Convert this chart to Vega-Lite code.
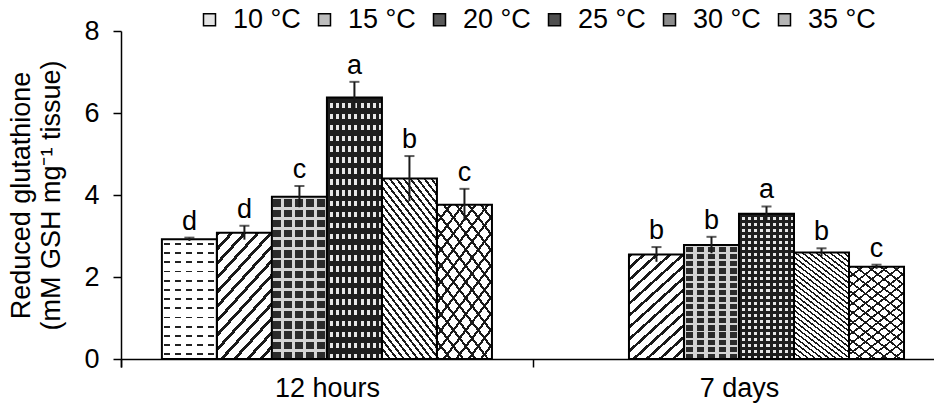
{
  "$schema": "https://vega.github.io/schema/vega-lite/v6.json",
  "width": 813,
  "height": 328,
  "autosize": {"type": "none"},
  "padding": {"left": 121, "top": 31, "right": 0, "bottom": 47},
  "background": "white",
  "config": {
    "font": "Liberation Sans",
    "view": {"stroke": null},
    "axis": {"domainColor": "black", "tickColor": "black", "labelColor": "black", "titleColor": "black", "domainWidth": 1.5, "tickWidth": 1.5, "grid": false}
  },
  "data": {
    "values": [
      {"time": "12 hours", "temp": "10 °C", "mean": 2.92, "lo": 2.88, "hi": 2.96, "letter": "d"},
      {"time": "12 hours", "temp": "15 °C", "mean": 3.08, "lo": 2.91, "hi": 3.25, "letter": "d"},
      {"time": "12 hours", "temp": "20 °C", "mean": 3.96, "lo": 3.70, "hi": 4.22, "letter": "c"},
      {"time": "12 hours", "temp": "25 °C", "mean": 6.38, "lo": 6.00, "hi": 6.76, "letter": "a"},
      {"time": "12 hours", "temp": "30 °C", "mean": 4.40, "lo": 3.85, "hi": 4.95, "letter": "b"},
      {"time": "12 hours", "temp": "35 °C", "mean": 3.76, "lo": 3.37, "hi": 4.15, "letter": "c"},
      {"time": "7 days", "temp": "15 °C", "mean": 2.55, "lo": 2.37, "hi": 2.73, "letter": "b"},
      {"time": "7 days", "temp": "20 °C", "mean": 2.78, "lo": 2.58, "hi": 2.98, "letter": "b"},
      {"time": "7 days", "temp": "25 °C", "mean": 3.54, "lo": 3.36, "hi": 3.72, "letter": "a"},
      {"time": "7 days", "temp": "30 °C", "mean": 2.60, "lo": 2.50, "hi": 2.70, "letter": "b"},
      {"time": "7 days", "temp": "35 °C", "mean": 2.25, "lo": 2.20, "hi": 2.30, "letter": "c"}
    ]
  },
  "encoding": {
    "x": {
      "field": "time", "type": "nominal", "sort": ["12 hours", "7 days"],
      "scale": {"paddingInner": 0.199, "paddingOuter": 0.086, "align": 0.577},
      "axis": {"title": null, "labelAngle": 0, "labelFontSize": 27, "labelPadding": 8, "labelOffset": 41, "tickSize": 8, "bandPosition": 0, "tickOffset": -41, "tickExtra": true}
    },
    "xOffset": {
      "field": "temp", "type": "nominal",
      "scale": {"domain": ["10 °C", "15 °C", "20 °C", "25 °C", "30 °C", "35 °C"], "paddingInner": 0, "paddingOuter": 0}
    }
  },
  "layer": [
    {
      "mark": {"type": "bar"},
      "encoding": {
        "y": {
          "field": "mean", "type": "quantitative",
          "scale": {"domain": [0, 8], "nice": false},
          "axis": {"values": [0, 2, 4, 6, 8], "labelFontSize": 27, "labelPadding": 14, "tickSize": 8,
                   "title": ["Reduced glutathione", "(mM GSH mg⁻¹ tissue)"], "titleFontSize": 27, "titleFontWeight": "normal", "titleLineHeight": 30, "titlePadding": 18}
        },
        "fill": {
          "field": "temp", "type": "nominal",
          "scale": {"domain": ["10 °C", "15 °C", "20 °C", "25 °C", "30 °C", "35 °C"],
                    "range": ["#e4e4e4", "#bdbdbd", "#5a5a5a", "#4f4f4f", "#8c8c8c", "#b5b5b5"]},
          "legend": {"title": null, "orient": "none", "legendX": 75, "legendY": -25, "direction": "horizontal", "columns": 6, "padding": 0,
                     "symbolType": "square", "symbolSize": 144, "symbolStrokeColor": "black", "symbolStrokeWidth": 1.5,
                     "labelFontSize": 27, "labelColor": "black", "labelOffset": 10, "columnPadding": 10}
        }
      }
    },
    {
      "mark": {"type": "bar"},
      "encoding": {
        "y": {"field": "mean", "type": "quantitative"},
        "fill": {
          "condition": [
            {"test": "datum.temp === '10 °C'", "value": {"gradient": "linear", "x1": 0, "y1": 0, "x2": 0, "y2": 1, "stops": [
              {"offset": 0, "color": "#fff"},
              {"offset": 0.0308, "color": "#fff"}, {"offset": 0.0308, "color": "#222"}, {"offset": 0.0462, "color": "#222"}, {"offset": 0.0462, "color": "#fff"},
              {"offset": 0.1077, "color": "#fff"}, {"offset": 0.1077, "color": "#222"}, {"offset": 0.1231, "color": "#222"}, {"offset": 0.1231, "color": "#fff"},
              {"offset": 0.1846, "color": "#fff"}, {"offset": 0.1846, "color": "#222"}, {"offset": 0.2000, "color": "#222"}, {"offset": 0.2000, "color": "#fff"},
              {"offset": 0.2615, "color": "#fff"}, {"offset": 0.2615, "color": "#222"}, {"offset": 0.2769, "color": "#222"}, {"offset": 0.2769, "color": "#fff"},
              {"offset": 0.3385, "color": "#fff"}, {"offset": 0.3385, "color": "#222"}, {"offset": 0.3538, "color": "#222"}, {"offset": 0.3538, "color": "#fff"},
              {"offset": 0.4154, "color": "#fff"}, {"offset": 0.4154, "color": "#222"}, {"offset": 0.4308, "color": "#222"}, {"offset": 0.4308, "color": "#fff"},
              {"offset": 0.4923, "color": "#fff"}, {"offset": 0.4923, "color": "#222"}, {"offset": 0.5077, "color": "#222"}, {"offset": 0.5077, "color": "#fff"},
              {"offset": 0.5692, "color": "#fff"}, {"offset": 0.5692, "color": "#222"}, {"offset": 0.5846, "color": "#222"}, {"offset": 0.5846, "color": "#fff"},
              {"offset": 0.6462, "color": "#fff"}, {"offset": 0.6462, "color": "#222"}, {"offset": 0.6615, "color": "#222"}, {"offset": 0.6615, "color": "#fff"},
              {"offset": 0.7231, "color": "#fff"}, {"offset": 0.7231, "color": "#222"}, {"offset": 0.7385, "color": "#222"}, {"offset": 0.7385, "color": "#fff"},
              {"offset": 0.8000, "color": "#fff"}, {"offset": 0.8000, "color": "#222"}, {"offset": 0.8154, "color": "#222"}, {"offset": 0.8154, "color": "#fff"},
              {"offset": 0.8769, "color": "#fff"}, {"offset": 0.8769, "color": "#222"}, {"offset": 0.8923, "color": "#222"}, {"offset": 0.8923, "color": "#fff"},
              {"offset": 0.9538, "color": "#fff"}, {"offset": 0.9538, "color": "#222"}, {"offset": 0.9692, "color": "#222"}, {"offset": 0.9692, "color": "#fff"},
              {"offset": 1, "color": "#fff"}]}},
            {"test": "datum.temp === '15 °C'", "value": {"gradient": "linear", "x1": 0, "y1": 0, "x2": 0.575, "y2": 1.203, "stops": [
              {"offset": 0, "color": "#1a1a1a"}, {"offset": 0.0231, "color": "#1a1a1a"}, {"offset": 0.0231, "color": "#fff"}, {"offset": 0.0769, "color": "#fff"},
              {"offset": 0.0769, "color": "#1a1a1a"}, {"offset": 0.1000, "color": "#1a1a1a"}, {"offset": 0.1000, "color": "#fff"}, {"offset": 0.1538, "color": "#fff"},
              {"offset": 0.1538, "color": "#1a1a1a"}, {"offset": 0.1769, "color": "#1a1a1a"}, {"offset": 0.1769, "color": "#fff"}, {"offset": 0.2308, "color": "#fff"},
              {"offset": 0.2308, "color": "#1a1a1a"}, {"offset": 0.2538, "color": "#1a1a1a"}, {"offset": 0.2538, "color": "#fff"}, {"offset": 0.3077, "color": "#fff"},
              {"offset": 0.3077, "color": "#1a1a1a"}, {"offset": 0.3308, "color": "#1a1a1a"}, {"offset": 0.3308, "color": "#fff"}, {"offset": 0.3846, "color": "#fff"},
              {"offset": 0.3846, "color": "#1a1a1a"}, {"offset": 0.4077, "color": "#1a1a1a"}, {"offset": 0.4077, "color": "#fff"}, {"offset": 0.4615, "color": "#fff"},
              {"offset": 0.4615, "color": "#1a1a1a"}, {"offset": 0.4846, "color": "#1a1a1a"}, {"offset": 0.4846, "color": "#fff"}, {"offset": 0.5385, "color": "#fff"},
              {"offset": 0.5385, "color": "#1a1a1a"}, {"offset": 0.5615, "color": "#1a1a1a"}, {"offset": 0.5615, "color": "#fff"}, {"offset": 0.6154, "color": "#fff"},
              {"offset": 0.6154, "color": "#1a1a1a"}, {"offset": 0.6385, "color": "#1a1a1a"}, {"offset": 0.6385, "color": "#fff"}, {"offset": 0.6923, "color": "#fff"},
              {"offset": 0.6923, "color": "#1a1a1a"}, {"offset": 0.7154, "color": "#1a1a1a"}, {"offset": 0.7154, "color": "#fff"}, {"offset": 0.7692, "color": "#fff"},
              {"offset": 0.7692, "color": "#1a1a1a"}, {"offset": 0.7923, "color": "#1a1a1a"}, {"offset": 0.7923, "color": "#fff"}, {"offset": 0.8462, "color": "#fff"},
              {"offset": 0.8462, "color": "#1a1a1a"}, {"offset": 0.8692, "color": "#1a1a1a"}, {"offset": 0.8692, "color": "#fff"}, {"offset": 0.9231, "color": "#fff"},
              {"offset": 0.9231, "color": "#1a1a1a"}, {"offset": 0.9462, "color": "#1a1a1a"}, {"offset": 0.9462, "color": "#fff"}, {"offset": 1, "color": "#fff"}]}},
            {"test": "datum.temp === '20 °C'", "value": {"gradient": "linear", "x1": 0, "y1": 0, "x2": 0, "y2": 1, "stops": [
              {"offset": 0, "color": "#d4d4d4"}, {"offset": 0.0175, "color": "#d4d4d4"}, {"offset": 0.0175, "color": "#2b2b2b"}, {"offset": 0.0625, "color": "#2b2b2b"},
              {"offset": 0.0625, "color": "#d4d4d4"}, {"offset": 0.08, "color": "#d4d4d4"}, {"offset": 0.08, "color": "#2b2b2b"}, {"offset": 0.125, "color": "#2b2b2b"},
              {"offset": 0.125, "color": "#d4d4d4"}, {"offset": 0.1425, "color": "#d4d4d4"}, {"offset": 0.1425, "color": "#2b2b2b"}, {"offset": 0.1875, "color": "#2b2b2b"},
              {"offset": 0.1875, "color": "#d4d4d4"}, {"offset": 0.205, "color": "#d4d4d4"}, {"offset": 0.205, "color": "#2b2b2b"}, {"offset": 0.25, "color": "#2b2b2b"},
              {"offset": 0.25, "color": "#d4d4d4"}, {"offset": 0.2675, "color": "#d4d4d4"}, {"offset": 0.2675, "color": "#2b2b2b"}, {"offset": 0.3125, "color": "#2b2b2b"},
              {"offset": 0.3125, "color": "#d4d4d4"}, {"offset": 0.33, "color": "#d4d4d4"}, {"offset": 0.33, "color": "#2b2b2b"}, {"offset": 0.375, "color": "#2b2b2b"},
              {"offset": 0.375, "color": "#d4d4d4"}, {"offset": 0.3925, "color": "#d4d4d4"}, {"offset": 0.3925, "color": "#2b2b2b"}, {"offset": 0.4375, "color": "#2b2b2b"},
              {"offset": 0.4375, "color": "#d4d4d4"}, {"offset": 0.455, "color": "#d4d4d4"}, {"offset": 0.455, "color": "#2b2b2b"}, {"offset": 0.5, "color": "#2b2b2b"},
              {"offset": 0.5, "color": "#d4d4d4"}, {"offset": 0.5175, "color": "#d4d4d4"}, {"offset": 0.5175, "color": "#2b2b2b"}, {"offset": 0.5625, "color": "#2b2b2b"},
              {"offset": 0.5625, "color": "#d4d4d4"}, {"offset": 0.58, "color": "#d4d4d4"}, {"offset": 0.58, "color": "#2b2b2b"}, {"offset": 0.625, "color": "#2b2b2b"},
              {"offset": 0.625, "color": "#d4d4d4"}, {"offset": 0.6425, "color": "#d4d4d4"}, {"offset": 0.6425, "color": "#2b2b2b"}, {"offset": 0.6875, "color": "#2b2b2b"},
              {"offset": 0.6875, "color": "#d4d4d4"}, {"offset": 0.705, "color": "#d4d4d4"}, {"offset": 0.705, "color": "#2b2b2b"}, {"offset": 0.75, "color": "#2b2b2b"},
              {"offset": 0.75, "color": "#d4d4d4"}, {"offset": 0.7675, "color": "#d4d4d4"}, {"offset": 0.7675, "color": "#2b2b2b"}, {"offset": 0.8125, "color": "#2b2b2b"},
              {"offset": 0.8125, "color": "#d4d4d4"}, {"offset": 0.83, "color": "#d4d4d4"}, {"offset": 0.83, "color": "#2b2b2b"}, {"offset": 0.875, "color": "#2b2b2b"},
              {"offset": 0.875, "color": "#d4d4d4"}, {"offset": 0.8925, "color": "#d4d4d4"}, {"offset": 0.8925, "color": "#2b2b2b"}, {"offset": 0.9375, "color": "#2b2b2b"},
              {"offset": 0.9375, "color": "#d4d4d4"}, {"offset": 0.955, "color": "#d4d4d4"}, {"offset": 0.955, "color": "#2b2b2b"}, {"offset": 1, "color": "#2b2b2b"}]}},
            {"test": "datum.temp === '25 °C'", "value": {"gradient": "linear", "x1": 0, "y1": 0, "x2": 0, "y2": 1, "stops": [
              {"offset": 0, "color": "#1e1e1e"}, {"offset": 0.02083, "color": "#1e1e1e"}, {"offset": 0.02083, "color": "#e6e6e6"}, {"offset": 0.04167, "color": "#e6e6e6"},
              {"offset": 0.04167, "color": "#1e1e1e"}, {"offset": 0.0625, "color": "#1e1e1e"}, {"offset": 0.0625, "color": "#e6e6e6"}, {"offset": 0.08333, "color": "#e6e6e6"},
              {"offset": 0.08333, "color": "#1e1e1e"}, {"offset": 0.10417, "color": "#1e1e1e"}, {"offset": 0.10417, "color": "#e6e6e6"}, {"offset": 0.125, "color": "#e6e6e6"},
              {"offset": 0.125, "color": "#1e1e1e"}, {"offset": 0.14583, "color": "#1e1e1e"}, {"offset": 0.14583, "color": "#e6e6e6"}, {"offset": 0.16667, "color": "#e6e6e6"},
              {"offset": 0.16667, "color": "#1e1e1e"}, {"offset": 0.1875, "color": "#1e1e1e"}, {"offset": 0.1875, "color": "#e6e6e6"}, {"offset": 0.20833, "color": "#e6e6e6"},
              {"offset": 0.20833, "color": "#1e1e1e"}, {"offset": 0.22917, "color": "#1e1e1e"}, {"offset": 0.22917, "color": "#e6e6e6"}, {"offset": 0.25, "color": "#e6e6e6"},
              {"offset": 0.25, "color": "#1e1e1e"}, {"offset": 0.27083, "color": "#1e1e1e"}, {"offset": 0.27083, "color": "#e6e6e6"}, {"offset": 0.29167, "color": "#e6e6e6"},
              {"offset": 0.29167, "color": "#1e1e1e"}, {"offset": 0.3125, "color": "#1e1e1e"}, {"offset": 0.3125, "color": "#e6e6e6"}, {"offset": 0.33333, "color": "#e6e6e6"},
              {"offset": 0.33333, "color": "#1e1e1e"}, {"offset": 0.35417, "color": "#1e1e1e"}, {"offset": 0.35417, "color": "#e6e6e6"}, {"offset": 0.375, "color": "#e6e6e6"},
              {"offset": 0.375, "color": "#1e1e1e"}, {"offset": 0.39583, "color": "#1e1e1e"}, {"offset": 0.39583, "color": "#e6e6e6"}, {"offset": 0.41667, "color": "#e6e6e6"},
              {"offset": 0.41667, "color": "#1e1e1e"}, {"offset": 0.4375, "color": "#1e1e1e"}, {"offset": 0.4375, "color": "#e6e6e6"}, {"offset": 0.45833, "color": "#e6e6e6"},
              {"offset": 0.45833, "color": "#1e1e1e"}, {"offset": 0.47917, "color": "#1e1e1e"}, {"offset": 0.47917, "color": "#e6e6e6"}, {"offset": 0.5, "color": "#e6e6e6"},
              {"offset": 0.5, "color": "#1e1e1e"}, {"offset": 0.52083, "color": "#1e1e1e"}, {"offset": 0.52083, "color": "#e6e6e6"}, {"offset": 0.54167, "color": "#e6e6e6"},
              {"offset": 0.54167, "color": "#1e1e1e"}, {"offset": 0.5625, "color": "#1e1e1e"}, {"offset": 0.5625, "color": "#e6e6e6"}, {"offset": 0.58333, "color": "#e6e6e6"},
              {"offset": 0.58333, "color": "#1e1e1e"}, {"offset": 0.60417, "color": "#1e1e1e"}, {"offset": 0.60417, "color": "#e6e6e6"}, {"offset": 0.625, "color": "#e6e6e6"},
              {"offset": 0.625, "color": "#1e1e1e"}, {"offset": 0.64583, "color": "#1e1e1e"}, {"offset": 0.64583, "color": "#e6e6e6"}, {"offset": 0.66667, "color": "#e6e6e6"},
              {"offset": 0.66667, "color": "#1e1e1e"}, {"offset": 0.6875, "color": "#1e1e1e"}, {"offset": 0.6875, "color": "#e6e6e6"}, {"offset": 0.70833, "color": "#e6e6e6"},
              {"offset": 0.70833, "color": "#1e1e1e"}, {"offset": 0.72917, "color": "#1e1e1e"}, {"offset": 0.72917, "color": "#e6e6e6"}, {"offset": 0.75, "color": "#e6e6e6"},
              {"offset": 0.75, "color": "#1e1e1e"}, {"offset": 0.77083, "color": "#1e1e1e"}, {"offset": 0.77083, "color": "#e6e6e6"}, {"offset": 0.79167, "color": "#e6e6e6"},
              {"offset": 0.79167, "color": "#1e1e1e"}, {"offset": 0.8125, "color": "#1e1e1e"}, {"offset": 0.8125, "color": "#e6e6e6"}, {"offset": 0.83333, "color": "#e6e6e6"},
              {"offset": 0.83333, "color": "#1e1e1e"}, {"offset": 0.85417, "color": "#1e1e1e"}, {"offset": 0.85417, "color": "#e6e6e6"}, {"offset": 0.875, "color": "#e6e6e6"},
              {"offset": 0.875, "color": "#1e1e1e"}, {"offset": 0.89583, "color": "#1e1e1e"}, {"offset": 0.89583, "color": "#e6e6e6"}, {"offset": 0.91667, "color": "#e6e6e6"},
              {"offset": 0.91667, "color": "#1e1e1e"}, {"offset": 0.9375, "color": "#1e1e1e"}, {"offset": 0.9375, "color": "#e6e6e6"}, {"offset": 0.95833, "color": "#e6e6e6"},
              {"offset": 0.95833, "color": "#1e1e1e"}, {"offset": 0.97917, "color": "#1e1e1e"}, {"offset": 0.97917, "color": "#e6e6e6"}, {"offset": 1, "color": "#e6e6e6"}]}},
            {"test": "datum.temp === '30 °C'", "value": {"gradient": "linear", "x1": 0, "y1": 1, "x2": 0.477, "y2": -0.207, "stops": [
              {"offset": 0, "color": "#1a1a1a"}, {"offset": 0.0125, "color": "#1a1a1a"}, {"offset": 0.0125, "color": "#fff"}, {"offset": 0.0357, "color": "#fff"},
              {"offset": 0.0357, "color": "#1a1a1a"}, {"offset": 0.0482, "color": "#1a1a1a"}, {"offset": 0.0482, "color": "#fff"}, {"offset": 0.0714, "color": "#fff"},
              {"offset": 0.0714, "color": "#1a1a1a"}, {"offset": 0.0839, "color": "#1a1a1a"}, {"offset": 0.0839, "color": "#fff"}, {"offset": 0.1071, "color": "#fff"},
              {"offset": 0.1071, "color": "#1a1a1a"}, {"offset": 0.1196, "color": "#1a1a1a"}, {"offset": 0.1196, "color": "#fff"}, {"offset": 0.1429, "color": "#fff"},
              {"offset": 0.1429, "color": "#1a1a1a"}, {"offset": 0.1554, "color": "#1a1a1a"}, {"offset": 0.1554, "color": "#fff"}, {"offset": 0.1786, "color": "#fff"},
              {"offset": 0.1786, "color": "#1a1a1a"}, {"offset": 0.1911, "color": "#1a1a1a"}, {"offset": 0.1911, "color": "#fff"}, {"offset": 0.2143, "color": "#fff"},
              {"offset": 0.2143, "color": "#1a1a1a"}, {"offset": 0.2268, "color": "#1a1a1a"}, {"offset": 0.2268, "color": "#fff"}, {"offset": 0.25, "color": "#fff"},
              {"offset": 0.25, "color": "#1a1a1a"}, {"offset": 0.2625, "color": "#1a1a1a"}, {"offset": 0.2625, "color": "#fff"}, {"offset": 0.2857, "color": "#fff"},
              {"offset": 0.2857, "color": "#1a1a1a"}, {"offset": 0.2982, "color": "#1a1a1a"}, {"offset": 0.2982, "color": "#fff"}, {"offset": 0.3214, "color": "#fff"},
              {"offset": 0.3214, "color": "#1a1a1a"}, {"offset": 0.3339, "color": "#1a1a1a"}, {"offset": 0.3339, "color": "#fff"}, {"offset": 0.3571, "color": "#fff"},
              {"offset": 0.3571, "color": "#1a1a1a"}, {"offset": 0.3696, "color": "#1a1a1a"}, {"offset": 0.3696, "color": "#fff"}, {"offset": 0.3929, "color": "#fff"},
              {"offset": 0.3929, "color": "#1a1a1a"}, {"offset": 0.4054, "color": "#1a1a1a"}, {"offset": 0.4054, "color": "#fff"}, {"offset": 0.4286, "color": "#fff"},
              {"offset": 0.4286, "color": "#1a1a1a"}, {"offset": 0.4411, "color": "#1a1a1a"}, {"offset": 0.4411, "color": "#fff"}, {"offset": 0.4643, "color": "#fff"},
              {"offset": 0.4643, "color": "#1a1a1a"}, {"offset": 0.4768, "color": "#1a1a1a"}, {"offset": 0.4768, "color": "#fff"}, {"offset": 0.5, "color": "#fff"},
              {"offset": 0.5, "color": "#1a1a1a"}, {"offset": 0.5125, "color": "#1a1a1a"}, {"offset": 0.5125, "color": "#fff"}, {"offset": 0.5357, "color": "#fff"},
              {"offset": 0.5357, "color": "#1a1a1a"}, {"offset": 0.5482, "color": "#1a1a1a"}, {"offset": 0.5482, "color": "#fff"}, {"offset": 0.5714, "color": "#fff"},
              {"offset": 0.5714, "color": "#1a1a1a"}, {"offset": 0.5839, "color": "#1a1a1a"}, {"offset": 0.5839, "color": "#fff"}, {"offset": 0.6071, "color": "#fff"},
              {"offset": 0.6071, "color": "#1a1a1a"}, {"offset": 0.6196, "color": "#1a1a1a"}, {"offset": 0.6196, "color": "#fff"}, {"offset": 0.6429, "color": "#fff"},
              {"offset": 0.6429, "color": "#1a1a1a"}, {"offset": 0.6554, "color": "#1a1a1a"}, {"offset": 0.6554, "color": "#fff"}, {"offset": 0.6786, "color": "#fff"},
              {"offset": 0.6786, "color": "#1a1a1a"}, {"offset": 0.6911, "color": "#1a1a1a"}, {"offset": 0.6911, "color": "#fff"}, {"offset": 0.7143, "color": "#fff"},
              {"offset": 0.7143, "color": "#1a1a1a"}, {"offset": 0.7268, "color": "#1a1a1a"}, {"offset": 0.7268, "color": "#fff"}, {"offset": 0.75, "color": "#fff"},
              {"offset": 0.75, "color": "#1a1a1a"}, {"offset": 0.7625, "color": "#1a1a1a"}, {"offset": 0.7625, "color": "#fff"}, {"offset": 0.7857, "color": "#fff"},
              {"offset": 0.7857, "color": "#1a1a1a"}, {"offset": 0.7982, "color": "#1a1a1a"}, {"offset": 0.7982, "color": "#fff"}, {"offset": 0.8214, "color": "#fff"},
              {"offset": 0.8214, "color": "#1a1a1a"}, {"offset": 0.8339, "color": "#1a1a1a"}, {"offset": 0.8339, "color": "#fff"}, {"offset": 0.8571, "color": "#fff"},
              {"offset": 0.8571, "color": "#1a1a1a"}, {"offset": 0.8696, "color": "#1a1a1a"}, {"offset": 0.8696, "color": "#fff"}, {"offset": 0.8929, "color": "#fff"},
              {"offset": 0.8929, "color": "#1a1a1a"}, {"offset": 0.9054, "color": "#1a1a1a"}, {"offset": 0.9054, "color": "#fff"}, {"offset": 0.9286, "color": "#fff"},
              {"offset": 0.9286, "color": "#1a1a1a"}, {"offset": 0.9411, "color": "#1a1a1a"}, {"offset": 0.9411, "color": "#fff"}, {"offset": 0.9643, "color": "#fff"},
              {"offset": 0.9643, "color": "#1a1a1a"}, {"offset": 0.9768, "color": "#1a1a1a"}, {"offset": 0.9768, "color": "#fff"}, {"offset": 1, "color": "#fff"}]}},
            {"test": "datum.temp === '35 °C'", "value": {"gradient": "linear", "x1": 0, "y1": 0, "x2": 0.557, "y2": 1.205, "stops": [
              {"offset": 0, "color": "#1a1a1a"}, {"offset": 0.0157, "color": "#1a1a1a"}, {"offset": 0.0157, "color": "#fff"}, {"offset": 0.0714, "color": "#fff"},
              {"offset": 0.0714, "color": "#1a1a1a"}, {"offset": 0.0871, "color": "#1a1a1a"}, {"offset": 0.0871, "color": "#fff"}, {"offset": 0.1429, "color": "#fff"},
              {"offset": 0.1429, "color": "#1a1a1a"}, {"offset": 0.1586, "color": "#1a1a1a"}, {"offset": 0.1586, "color": "#fff"}, {"offset": 0.2143, "color": "#fff"},
              {"offset": 0.2143, "color": "#1a1a1a"}, {"offset": 0.23, "color": "#1a1a1a"}, {"offset": 0.23, "color": "#fff"}, {"offset": 0.2857, "color": "#fff"},
              {"offset": 0.2857, "color": "#1a1a1a"}, {"offset": 0.3014, "color": "#1a1a1a"}, {"offset": 0.3014, "color": "#fff"}, {"offset": 0.3571, "color": "#fff"},
              {"offset": 0.3571, "color": "#1a1a1a"}, {"offset": 0.3729, "color": "#1a1a1a"}, {"offset": 0.3729, "color": "#fff"}, {"offset": 0.4286, "color": "#fff"},
              {"offset": 0.4286, "color": "#1a1a1a"}, {"offset": 0.4443, "color": "#1a1a1a"}, {"offset": 0.4443, "color": "#fff"}, {"offset": 0.5, "color": "#fff"},
              {"offset": 0.5, "color": "#1a1a1a"}, {"offset": 0.5157, "color": "#1a1a1a"}, {"offset": 0.5157, "color": "#fff"}, {"offset": 0.5714, "color": "#fff"},
              {"offset": 0.5714, "color": "#1a1a1a"}, {"offset": 0.5871, "color": "#1a1a1a"}, {"offset": 0.5871, "color": "#fff"}, {"offset": 0.6429, "color": "#fff"},
              {"offset": 0.6429, "color": "#1a1a1a"}, {"offset": 0.6586, "color": "#1a1a1a"}, {"offset": 0.6586, "color": "#fff"}, {"offset": 0.7143, "color": "#fff"},
              {"offset": 0.7143, "color": "#1a1a1a"}, {"offset": 0.73, "color": "#1a1a1a"}, {"offset": 0.73, "color": "#fff"}, {"offset": 0.7857, "color": "#fff"},
              {"offset": 0.7857, "color": "#1a1a1a"}, {"offset": 0.8014, "color": "#1a1a1a"}, {"offset": 0.8014, "color": "#fff"}, {"offset": 0.8571, "color": "#fff"},
              {"offset": 0.8571, "color": "#1a1a1a"}, {"offset": 0.8729, "color": "#1a1a1a"}, {"offset": 0.8729, "color": "#fff"}, {"offset": 0.9286, "color": "#fff"},
              {"offset": 0.9286, "color": "#1a1a1a"}, {"offset": 0.9443, "color": "#1a1a1a"}, {"offset": 0.9443, "color": "#fff"}, {"offset": 1, "color": "#fff"}]}}
          ],
          "value": "#fff"
        }
      }
    },
    {
      "mark": {"type": "bar", "stroke": "black", "strokeWidth": 2},
      "encoding": {
        "y": {"field": "mean", "type": "quantitative"},
        "fill": {
          "condition": [
            {"test": "datum.temp === '10 °C'", "value": {"gradient": "linear", "x1": 0, "y1": 0, "x2": 1, "y2": 0, "stops": [
              {"offset": 0, "color": "#fff"}, {"offset": 0.045, "color": "#fff"}, {"offset": 0.045, "color": "rgba(0,0,0,0)"}, {"offset": 0.155, "color": "rgba(0,0,0,0)"},
              {"offset": 0.155, "color": "#fff"}, {"offset": 0.245, "color": "#fff"}, {"offset": 0.245, "color": "rgba(0,0,0,0)"}, {"offset": 0.355, "color": "rgba(0,0,0,0)"},
              {"offset": 0.355, "color": "#fff"}, {"offset": 0.445, "color": "#fff"}, {"offset": 0.445, "color": "rgba(0,0,0,0)"}, {"offset": 0.555, "color": "rgba(0,0,0,0)"},
              {"offset": 0.555, "color": "#fff"}, {"offset": 0.645, "color": "#fff"}, {"offset": 0.645, "color": "rgba(0,0,0,0)"}, {"offset": 0.755, "color": "rgba(0,0,0,0)"},
              {"offset": 0.755, "color": "#fff"}, {"offset": 0.845, "color": "#fff"}, {"offset": 0.845, "color": "rgba(0,0,0,0)"}, {"offset": 0.955, "color": "rgba(0,0,0,0)"},
              {"offset": 0.955, "color": "#fff"}, {"offset": 1, "color": "#fff"}]}},
            {"test": "datum.temp === '20 °C'", "value": {"gradient": "linear", "x1": 0, "y1": 0, "x2": 1, "y2": 0, "stops": [
              {"offset": 0, "color": "#d4d4d4"}, {"offset": 0.028, "color": "#d4d4d4"}, {"offset": 0.028, "color": "rgba(0,0,0,0)"}, {"offset": 0.172, "color": "rgba(0,0,0,0)"},
              {"offset": 0.172, "color": "#d4d4d4"}, {"offset": 0.228, "color": "#d4d4d4"}, {"offset": 0.228, "color": "rgba(0,0,0,0)"}, {"offset": 0.372, "color": "rgba(0,0,0,0)"},
              {"offset": 0.372, "color": "#d4d4d4"}, {"offset": 0.428, "color": "#d4d4d4"}, {"offset": 0.428, "color": "rgba(0,0,0,0)"}, {"offset": 0.572, "color": "rgba(0,0,0,0)"},
              {"offset": 0.572, "color": "#d4d4d4"}, {"offset": 0.628, "color": "#d4d4d4"}, {"offset": 0.628, "color": "rgba(0,0,0,0)"}, {"offset": 0.772, "color": "rgba(0,0,0,0)"},
              {"offset": 0.772, "color": "#d4d4d4"}, {"offset": 0.828, "color": "#d4d4d4"}, {"offset": 0.828, "color": "rgba(0,0,0,0)"}, {"offset": 0.972, "color": "rgba(0,0,0,0)"},
              {"offset": 0.972, "color": "#d4d4d4"}, {"offset": 1, "color": "#d4d4d4"}]}},
            {"test": "datum.temp === '25 °C'", "value": {"gradient": "linear", "x1": 0, "y1": 0, "x2": 1, "y2": 0, "stops": [
              {"offset": 0, "color": "#1e1e1e"}, {"offset": 0.0556, "color": "#1e1e1e"}, {"offset": 0.0556, "color": "rgba(0,0,0,0)"}, {"offset": 0.1111, "color": "rgba(0,0,0,0)"},
              {"offset": 0.1111, "color": "#1e1e1e"}, {"offset": 0.1667, "color": "#1e1e1e"}, {"offset": 0.1667, "color": "rgba(0,0,0,0)"}, {"offset": 0.2222, "color": "rgba(0,0,0,0)"},
              {"offset": 0.2222, "color": "#1e1e1e"}, {"offset": 0.2778, "color": "#1e1e1e"}, {"offset": 0.2778, "color": "rgba(0,0,0,0)"}, {"offset": 0.3333, "color": "rgba(0,0,0,0)"},
              {"offset": 0.3333, "color": "#1e1e1e"}, {"offset": 0.3889, "color": "#1e1e1e"}, {"offset": 0.3889, "color": "rgba(0,0,0,0)"}, {"offset": 0.4444, "color": "rgba(0,0,0,0)"},
              {"offset": 0.4444, "color": "#1e1e1e"}, {"offset": 0.5, "color": "#1e1e1e"}, {"offset": 0.5, "color": "rgba(0,0,0,0)"}, {"offset": 0.5556, "color": "rgba(0,0,0,0)"},
              {"offset": 0.5556, "color": "#1e1e1e"}, {"offset": 0.6111, "color": "#1e1e1e"}, {"offset": 0.6111, "color": "rgba(0,0,0,0)"}, {"offset": 0.6667, "color": "rgba(0,0,0,0)"},
              {"offset": 0.6667, "color": "#1e1e1e"}, {"offset": 0.7222, "color": "#1e1e1e"}, {"offset": 0.7222, "color": "rgba(0,0,0,0)"}, {"offset": 0.7778, "color": "rgba(0,0,0,0)"},
              {"offset": 0.7778, "color": "#1e1e1e"}, {"offset": 0.8333, "color": "#1e1e1e"}, {"offset": 0.8333, "color": "rgba(0,0,0,0)"}, {"offset": 0.8889, "color": "rgba(0,0,0,0)"},
              {"offset": 0.8889, "color": "#1e1e1e"}, {"offset": 0.9444, "color": "#1e1e1e"}, {"offset": 0.9444, "color": "rgba(0,0,0,0)"}, {"offset": 1, "color": "rgba(0,0,0,0)"}]}},
            {"test": "datum.temp === '35 °C'", "value": {"gradient": "linear", "x1": 0, "y1": 1, "x2": 0.557, "y2": -0.205, "stops": [
              {"offset": 0, "color": "#1a1a1a"}, {"offset": 0.0157, "color": "#1a1a1a"}, {"offset": 0.0157, "color": "rgba(0,0,0,0)"}, {"offset": 0.0714, "color": "rgba(0,0,0,0)"},
              {"offset": 0.0714, "color": "#1a1a1a"}, {"offset": 0.0871, "color": "#1a1a1a"}, {"offset": 0.0871, "color": "rgba(0,0,0,0)"}, {"offset": 0.1429, "color": "rgba(0,0,0,0)"},
              {"offset": 0.1429, "color": "#1a1a1a"}, {"offset": 0.1586, "color": "#1a1a1a"}, {"offset": 0.1586, "color": "rgba(0,0,0,0)"}, {"offset": 0.2143, "color": "rgba(0,0,0,0)"},
              {"offset": 0.2143, "color": "#1a1a1a"}, {"offset": 0.23, "color": "#1a1a1a"}, {"offset": 0.23, "color": "rgba(0,0,0,0)"}, {"offset": 0.2857, "color": "rgba(0,0,0,0)"},
              {"offset": 0.2857, "color": "#1a1a1a"}, {"offset": 0.3014, "color": "#1a1a1a"}, {"offset": 0.3014, "color": "rgba(0,0,0,0)"}, {"offset": 0.3571, "color": "rgba(0,0,0,0)"},
              {"offset": 0.3571, "color": "#1a1a1a"}, {"offset": 0.3729, "color": "#1a1a1a"}, {"offset": 0.3729, "color": "rgba(0,0,0,0)"}, {"offset": 0.4286, "color": "rgba(0,0,0,0)"},
              {"offset": 0.4286, "color": "#1a1a1a"}, {"offset": 0.4443, "color": "#1a1a1a"}, {"offset": 0.4443, "color": "rgba(0,0,0,0)"}, {"offset": 0.5, "color": "rgba(0,0,0,0)"},
              {"offset": 0.5, "color": "#1a1a1a"}, {"offset": 0.5157, "color": "#1a1a1a"}, {"offset": 0.5157, "color": "rgba(0,0,0,0)"}, {"offset": 0.5714, "color": "rgba(0,0,0,0)"},
              {"offset": 0.5714, "color": "#1a1a1a"}, {"offset": 0.5871, "color": "#1a1a1a"}, {"offset": 0.5871, "color": "rgba(0,0,0,0)"}, {"offset": 0.6429, "color": "rgba(0,0,0,0)"},
              {"offset": 0.6429, "color": "#1a1a1a"}, {"offset": 0.6586, "color": "#1a1a1a"}, {"offset": 0.6586, "color": "rgba(0,0,0,0)"}, {"offset": 0.7143, "color": "rgba(0,0,0,0)"},
              {"offset": 0.7143, "color": "#1a1a1a"}, {"offset": 0.73, "color": "#1a1a1a"}, {"offset": 0.73, "color": "rgba(0,0,0,0)"}, {"offset": 0.7857, "color": "rgba(0,0,0,0)"},
              {"offset": 0.7857, "color": "#1a1a1a"}, {"offset": 0.8014, "color": "#1a1a1a"}, {"offset": 0.8014, "color": "rgba(0,0,0,0)"}, {"offset": 0.8571, "color": "rgba(0,0,0,0)"},
              {"offset": 0.8571, "color": "#1a1a1a"}, {"offset": 0.8729, "color": "#1a1a1a"}, {"offset": 0.8729, "color": "rgba(0,0,0,0)"}, {"offset": 0.9286, "color": "rgba(0,0,0,0)"},
              {"offset": 0.9286, "color": "#1a1a1a"}, {"offset": 0.9443, "color": "#1a1a1a"}, {"offset": 0.9443, "color": "rgba(0,0,0,0)"}, {"offset": 1, "color": "rgba(0,0,0,0)"}]}}
          ],
          "value": "rgba(0,0,0,0)"
        }
      }
    },
    {
      "mark": {"type": "rule", "strokeWidth": 2, "color": "#1a1a1a"},
      "encoding": {"y": {"field": "lo", "type": "quantitative"}, "y2": {"field": "hi"}}
    },
    {
      "mark": {"type": "tick", "thickness": 2, "size": 10, "color": "#1a1a1a"},
      "encoding": {"y": {"field": "hi", "type": "quantitative"}}
    },
    {
      "mark": {"type": "text", "baseline": "alphabetic", "dy": -8, "fontSize": 27, "color": "black"},
      "encoding": {"y": {"field": "hi", "type": "quantitative"}, "text": {"field": "letter"}}
    }
  ]
}
